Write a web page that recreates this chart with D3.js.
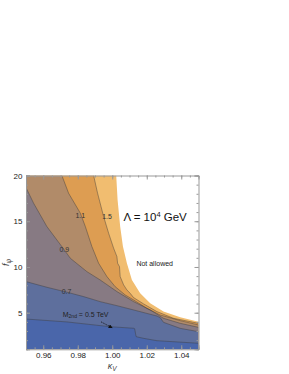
<!DOCTYPE html>
<html>
<head>
<meta charset="utf-8">
<script src="https://cdn.jsdelivr.net/npm/d3@7"></script>
<style>
  body { margin: 0; background: #fff; }
  svg { font-family: "Liberation Sans", Arial, sans-serif; }
</style>
</head>
<body>
<div class="canvas"></div>
<script>
// axis ticks
const kappaTicks = [0.96, 0.98, 1.00, 1.02, 1.04];
const fTicks = [5, 10, 15, 20];

// contour boundaries (kappa_V, f)
const kappaEdge = [1.0023, 1.0031, 1.0046, 1.0062, 1.0085, 1.0114, 1.0162, 1.0220, 1.0297, 1.0394, 1.05];
const fEdge     = [20, 17.33, 14.42, 12.23, 10.41, 8.58, 7.12, 6.03, 5.12, 4.50, 4.02];

const kappa15 = [0.9892, 0.9915, 0.9950, 0.9979, 1.0008, 1.0027, 1.0031, 1.0042, 1.0046, 1.0066, 1.0085, 1.0104, 1.0124, 1.0182, 1.0259, 1.0355, 1.05];
const f15     = [20, 18.06, 15.51, 13.69, 12.05, 11.13, 10.41, 10.04, 8.95, 8.04, 7.49, 7.12, 6.65, 5.96, 5.12, 4.39, 3.84];

const kappa11 = [0.9708, 0.9747, 0.9815, 0.9844, 0.9882, 0.9921, 0.9969, 1.0017, 1.0075, 1.0124, 1.0201, 1.0278, 1.0394, 1.05];
const f11     = [20, 18.06, 15.88, 14.42, 12.23, 10.41, 8.95, 7.85, 6.94, 6.39, 5.48, 4.75, 4.13, 3.66];

const kappa09 = [0.95, 0.9544, 0.9621, 0.9718, 0.9757, 0.9853, 0.9930, 1.0027, 1.0124, 1.0220, 1.0297, 1.0394, 1.05];
const f09     = [18.68, 16.97, 14.42, 11.97, 10.95, 9.49, 8.58, 7.31, 6.21, 5.30, 4.39, 3.84, 3.40];

const kappa07 = [0.95, 0.9621, 0.9732, 0.9834, 0.9930, 1.0027, 1.0124, 1.0259, 1.0278, 1.0297, 1.0394, 1.05];
const f07     = [8.40, 7.78, 7.27, 6.76, 6.21, 5.77, 5.30, 4.64, 4.46, 3.95, 3.29, 2.93];

const kappa05 = [0.95, 0.9738, 0.9988, 1.0123, 1.0130, 1.0136, 1.0139, 1.0181, 1.0259, 1.05];
const f05     = [4.31, 3.99, 3.47, 3.30, 3.25, 2.6, 2.38, 2.20, 1.94, 1.66];

// contour labels (level text, kappa_V, f)
const labelText  = ['1.5', '1.1', '0.9', '0.7'];
const labelKappa = [0.9970, 0.9815, 0.9722, 0.9735];
const labelF     = [15.2, 15.4, 11.6, 7.05];

const width = 289, height = 374;
const svg = d3.select('.canvas')
    .append('svg')
    .attr('width', width)
    .attr('height', height);

const x = d3.scaleLinear().domain([0.95, 1.05]).range([26, 198.5]);
const y = d3.scaleLinear().domain([1, 20]).range([349.3, 175.5]);

svg.append('clipPath').attr('id', 'plot')
    .append('rect')
    .attr('x', x(0.95)).attr('y', y(20))
    .attr('width', x(1.05) - x(0.95)).attr('height', y(1) - y(20));

const layers = [
    { k: kappaEdge, f: fEdge, fill: '#f1bd70', line: false },
    { k: kappa15, f: f15, fill: '#dd9d52', line: true },
    { k: kappa11, f: f11, fill: '#b18b69', line: true },
    { k: kappa09, f: f09, fill: '#877a83', line: true },
    { k: kappa07, f: f07, fill: '#5e6f9d', line: true },
    { k: kappa05, f: f05, fill: '#4a66aa', line: true }
];

const pts = l => {
    const p = l.k.map((k, i) => [k, l.f[i]]);
    if (p[0][0] > 0.95) p.unshift([0.95, 20]);
    return p;
};

const area = d3.area()
    .x(d => x(d[0]))
    .y0(y(1))
    .y1(d => y(d[1]));

const line = d3.line()
    .x(d => x(d[0]))
    .y(d => y(d[1]));

const plot = svg.append('g').attr('clip-path', 'url(#plot)');

plot.selectAll('path.fill')
    .data(layers)
    .enter()
    .append('path')
    .attr('class', 'fill')
    .attr('d', d => area(pts(d)))
    .attr('fill', d => d.fill);

plot.selectAll('path.cline')
    .data(layers.filter(d => d.line))
    .enter()
    .append('path')
    .attr('class', 'cline')
    .attr('d', d => line(d.k.map((k, i) => [k, d.f[i]])))
    .attr('fill', 'none')
    .attr('stroke', '#3c3c3c')
    .attr('stroke-opacity', 0.55)
    .attr('stroke-width', 0.8);

// contour labels
plot.selectAll('text.lvl')
    .data(labelText)
    .enter()
    .append('text')
    .attr('class', 'lvl')
    .attr('x', (d, i) => x(labelKappa[i]))
    .attr('y', (d, i) => y(labelF[i]))
    .attr('text-anchor', 'middle')
    .attr('font-size', 7)
    .attr('fill', '#333')
    .text(d => d);

// annotations
svg.append('text')
    .attr('x', x(1.0065)).attr('y', y(15.0))
    .attr('font-size', 11.5)
    .attr('fill', '#111')
    .html('Λ = 10<tspan dy="-4" font-size="7.5">4</tspan><tspan dy="4"> GeV</tspan>');

svg.append('text')
    .attr('x', x(1.0140)).attr('y', y(10.15))
    .attr('font-size', 7)
    .attr('fill', '#222')
    .text('Not allowed');

svg.append('text')
    .attr('x', x(0.9713)).attr('y', y(4.55))
    .attr('font-size', 7)
    .attr('fill', '#222')
    .html('M<tspan dy="1.5" font-size="5">2nd</tspan><tspan dy="-1.5"> = 0.5 TeV</tspan>');

svg.append('defs').append('marker')
    .attr('id', 'arr')
    .attr('viewBox', '0 0 10 10')
    .attr('refX', 9).attr('refY', 5)
    .attr('markerWidth', 5).attr('markerHeight', 5)
    .attr('orient', 'auto')
    .append('path')
    .attr('d', 'M0,0L10,5L0,10Z')
    .attr('fill', '#111');

svg.append('line')
    .attr('x1', x(0.9935)).attr('y1', y(4.0))
    .attr('x2', x(1.0000)).attr('y2', y(3.35))
    .attr('stroke', '#111')
    .attr('stroke-width', 0.8)
    .attr('stroke-dasharray', '1.5,1')
    .attr('marker-end', 'url(#arr)');

// frame and ticks
const minorK = d3.range(0, 21).map(i => 0.95 + i * 0.005);
const minorF = d3.range(1, 21);

const axes = [
    { g: d3.axisBottom(x).tickValues(kappaTicks).tickFormat(d3.format('.2f')), t: `translate(0,${y(1)})`, minor: d3.axisBottom(x).tickValues(minorK) },
    { g: d3.axisTop(x).tickValues(kappaTicks).tickFormat(''), t: `translate(0,${y(20)})`, minor: d3.axisTop(x).tickValues(minorK) },
    { g: d3.axisLeft(y).tickValues(fTicks).tickFormat(d3.format('d')), t: `translate(${x(0.95)},0)`, minor: d3.axisLeft(y).tickValues(minorF) },
    { g: d3.axisRight(y).tickValues(fTicks).tickFormat(''), t: `translate(${x(1.05)},0)`, minor: d3.axisRight(y).tickValues(minorF) }
];

axes.forEach(a => {
    svg.append('g')
        .attr('transform', a.t)
        .call(a.minor.tickSize(-2).tickFormat(''))
        .call(g => g.select('.domain').remove())
        .call(g => g.selectAll('line').attr('stroke', '#999'));
    svg.append('g')
        .attr('transform', a.t)
        .call(a.g.tickSize(-4).tickPadding(3.5))
        .call(g => g.select('.domain').attr('stroke', '#999'))
        .call(g => g.selectAll('line').attr('stroke', '#999'))
        .call(g => g.selectAll('text')
            .attr('font-size', 8)
            .attr('font-family', '"Liberation Sans", Arial, sans-serif')
            .attr('fill', '#222'));
});

// axis titles
svg.append('text')
    .attr('transform', `translate(9,${(y(1) + y(20)) / 2}) rotate(-90)`)
    .attr('text-anchor', 'middle')
    .attr('font-size', 9)
    .attr('font-style', 'italic')
    .attr('fill', '#444')
    .html('f<tspan dy="2" font-size="6.5">ψ</tspan>');

svg.append('text')
    .attr('x', (x(0.95) + x(1.05)) / 2)
    .attr('y', 369)
    .attr('text-anchor', 'middle')
    .attr('font-size', 9)
    .attr('font-style', 'italic')
    .attr('fill', '#444')
    .html('κ<tspan dy="2" font-size="6.5">V</tspan>');
</script>
</body>
</html>
